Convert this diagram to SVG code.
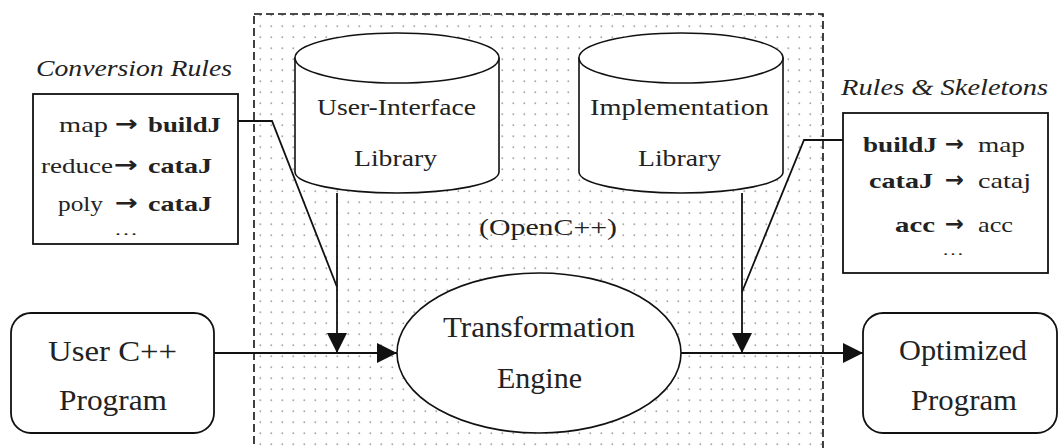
<svg xmlns="http://www.w3.org/2000/svg" width="1061" height="448" viewBox="0 0 1061 448" font-family="'Liberation Serif', 'DejaVu Serif', serif">
<style>
.t{font-family:'Liberation Serif','DejaVu Serif',serif;fill:#222}
.s{font-size:22px}
.b{font-weight:bold}
.m{font-size:24px}
.l{font-size:30px}
.i{font-style:italic;font-size:24px}
.ar{font-family:'DejaVu Sans',sans-serif;font-size:22px;font-weight:bold;fill:#222}
.dots{font-size:14px}
.shape{fill:#fff;stroke:#111;stroke-width:1.6}
.box{fill:#fff;stroke:#111;stroke-width:1.8}
.line{fill:none;stroke:#111;stroke-width:1.8}
</style>
<defs>
<pattern id="dots" patternUnits="userSpaceOnUse" x="0" y="0" width="11" height="11">
<circle cx="7.3" cy="4.3" r="0.95" fill="#a8a8a8"/>
</pattern>
<marker id="ah" markerUnits="userSpaceOnUse" markerWidth="20" markerHeight="20" refX="20" refY="10" orient="auto">
<path d="M0,0 L20,10 L0,20 z" fill="#111"/>
</marker>
</defs>
<rect width="1061" height="448" fill="#fff"/>

<g id="opencpp-region">
<rect x="254" y="14" width="569" height="450" fill="url(#dots)" stroke="#111" stroke-width="1.6" stroke-dasharray="8 4"/>
<text class="t m" x="479" y="235" textLength="138" lengthAdjust="spacingAndGlyphs">(OpenC++)</text>
</g>

<g id="conversion-rules">
<text class="t i" x="36" y="76" textLength="196" lengthAdjust="spacingAndGlyphs">Conversion Rules</text>
<rect class="box" x="33" y="94" width="205" height="150"/>
<text class="t s" x="59" y="132" textLength="49" lengthAdjust="spacingAndGlyphs">map</text>
<text class="ar" x="115" y="131" textLength="23" lengthAdjust="spacingAndGlyphs">→</text>
<text class="t s b" x="148" y="132" textLength="73" lengthAdjust="spacingAndGlyphs">buildJ</text>
<text class="t s" x="41" y="173" textLength="72" lengthAdjust="spacingAndGlyphs">reduce</text>
<text class="ar" x="114" y="172" textLength="24" lengthAdjust="spacingAndGlyphs">→</text>
<text class="t s b" x="148" y="173" textLength="64" lengthAdjust="spacingAndGlyphs">cataJ</text>
<text class="t s" x="58" y="211" textLength="45" lengthAdjust="spacingAndGlyphs">poly</text>
<text class="ar" x="115" y="210" textLength="23" lengthAdjust="spacingAndGlyphs">→</text>
<text class="t s b" x="148" y="211" textLength="64" lengthAdjust="spacingAndGlyphs">cataJ</text>
<text class="t dots" x="114" y="235" textLength="24" lengthAdjust="spacingAndGlyphs">…</text>
</g>

<g id="rules-skeletons">
<text class="t i" x="841" y="95" textLength="207" lengthAdjust="spacingAndGlyphs">Rules &amp; Skeletons</text>
<rect class="box" x="843" y="113" width="205" height="160"/>
<text class="t s b" x="863" y="152" textLength="74" lengthAdjust="spacingAndGlyphs">buildJ</text>
<text class="ar" x="945" y="151" textLength="19" lengthAdjust="spacingAndGlyphs">→</text>
<text class="t s" x="978" y="152" textLength="47" lengthAdjust="spacingAndGlyphs">map</text>
<text class="t s b" x="869" y="188" textLength="64" lengthAdjust="spacingAndGlyphs">cataJ</text>
<text class="ar" x="945" y="187" textLength="19" lengthAdjust="spacingAndGlyphs">→</text>
<text class="t s" x="978" y="188" textLength="53" lengthAdjust="spacingAndGlyphs">cataj</text>
<text class="t s b" x="895" y="232" textLength="40" lengthAdjust="spacingAndGlyphs">acc</text>
<text class="ar" x="945" y="231" textLength="19" lengthAdjust="spacingAndGlyphs">→</text>
<text class="t s" x="978" y="232" textLength="35" lengthAdjust="spacingAndGlyphs">acc</text>
<text class="t dots" x="942" y="255" textLength="22" lengthAdjust="spacingAndGlyphs">…</text>
</g>

<g id="ui-library">
<path class="shape" d="M295,58 L295,172 A102,21 0 0,0 499,172 L499,58 Z"/>
<ellipse class="shape" cx="397" cy="58" rx="102" ry="25"/>
<text class="t m" x="317" y="115" textLength="159" lengthAdjust="spacingAndGlyphs">User-Interface</text>
<text class="t m" x="354" y="166" textLength="83" lengthAdjust="spacingAndGlyphs">Library</text>
</g>

<g id="impl-library">
<path class="shape" d="M579,58 L579,172 A102,21 0 0,0 783,172 L783,58 Z"/>
<ellipse class="shape" cx="681" cy="58" rx="102" ry="25"/>
<text class="t m" x="590" y="115" textLength="179" lengthAdjust="spacingAndGlyphs">Implementation</text>
<text class="t m" x="638" y="166" textLength="83" lengthAdjust="spacingAndGlyphs">Library</text>
</g>

<g id="engine">
<ellipse class="shape" cx="539" cy="353" rx="142" ry="80"/>
<text class="t l" x="443" y="337" textLength="192" lengthAdjust="spacingAndGlyphs">Transformation</text>
<text class="t l" x="497" y="388" textLength="85" lengthAdjust="spacingAndGlyphs">Engine</text>
</g>

<g id="user-program">
<rect class="box" x="11" y="313" width="203" height="120" rx="20" ry="20"/>
<text class="t l" x="48" y="361" textLength="129" lengthAdjust="spacingAndGlyphs">User C++</text>
<text class="t l" x="59" y="410" textLength="108" lengthAdjust="spacingAndGlyphs">Program</text>
</g>

<g id="optimized-program">
<rect class="box" x="863" y="313" width="194" height="120" rx="20" ry="20"/>
<text class="t l" x="899" y="360" textLength="128" lengthAdjust="spacingAndGlyphs">Optimized</text>
<text class="t l" x="911" y="410" textLength="106" lengthAdjust="spacingAndGlyphs">Program</text>
</g>

<g id="connectors">
<polyline class="line" points="238,121 272,121 337,287"/>
<line class="line" x1="337" y1="193" x2="337" y2="353" marker-end="url(#ah)"/>
<polyline class="line" points="843,140 804,140 742,292"/>
<line class="line" x1="742" y1="193" x2="742" y2="353" marker-end="url(#ah)"/>
<line class="line" x1="214" y1="353" x2="397" y2="353" marker-end="url(#ah)"/>
<line class="line" x1="681" y1="353" x2="863" y2="353" marker-end="url(#ah)"/>
</g>
</svg>
